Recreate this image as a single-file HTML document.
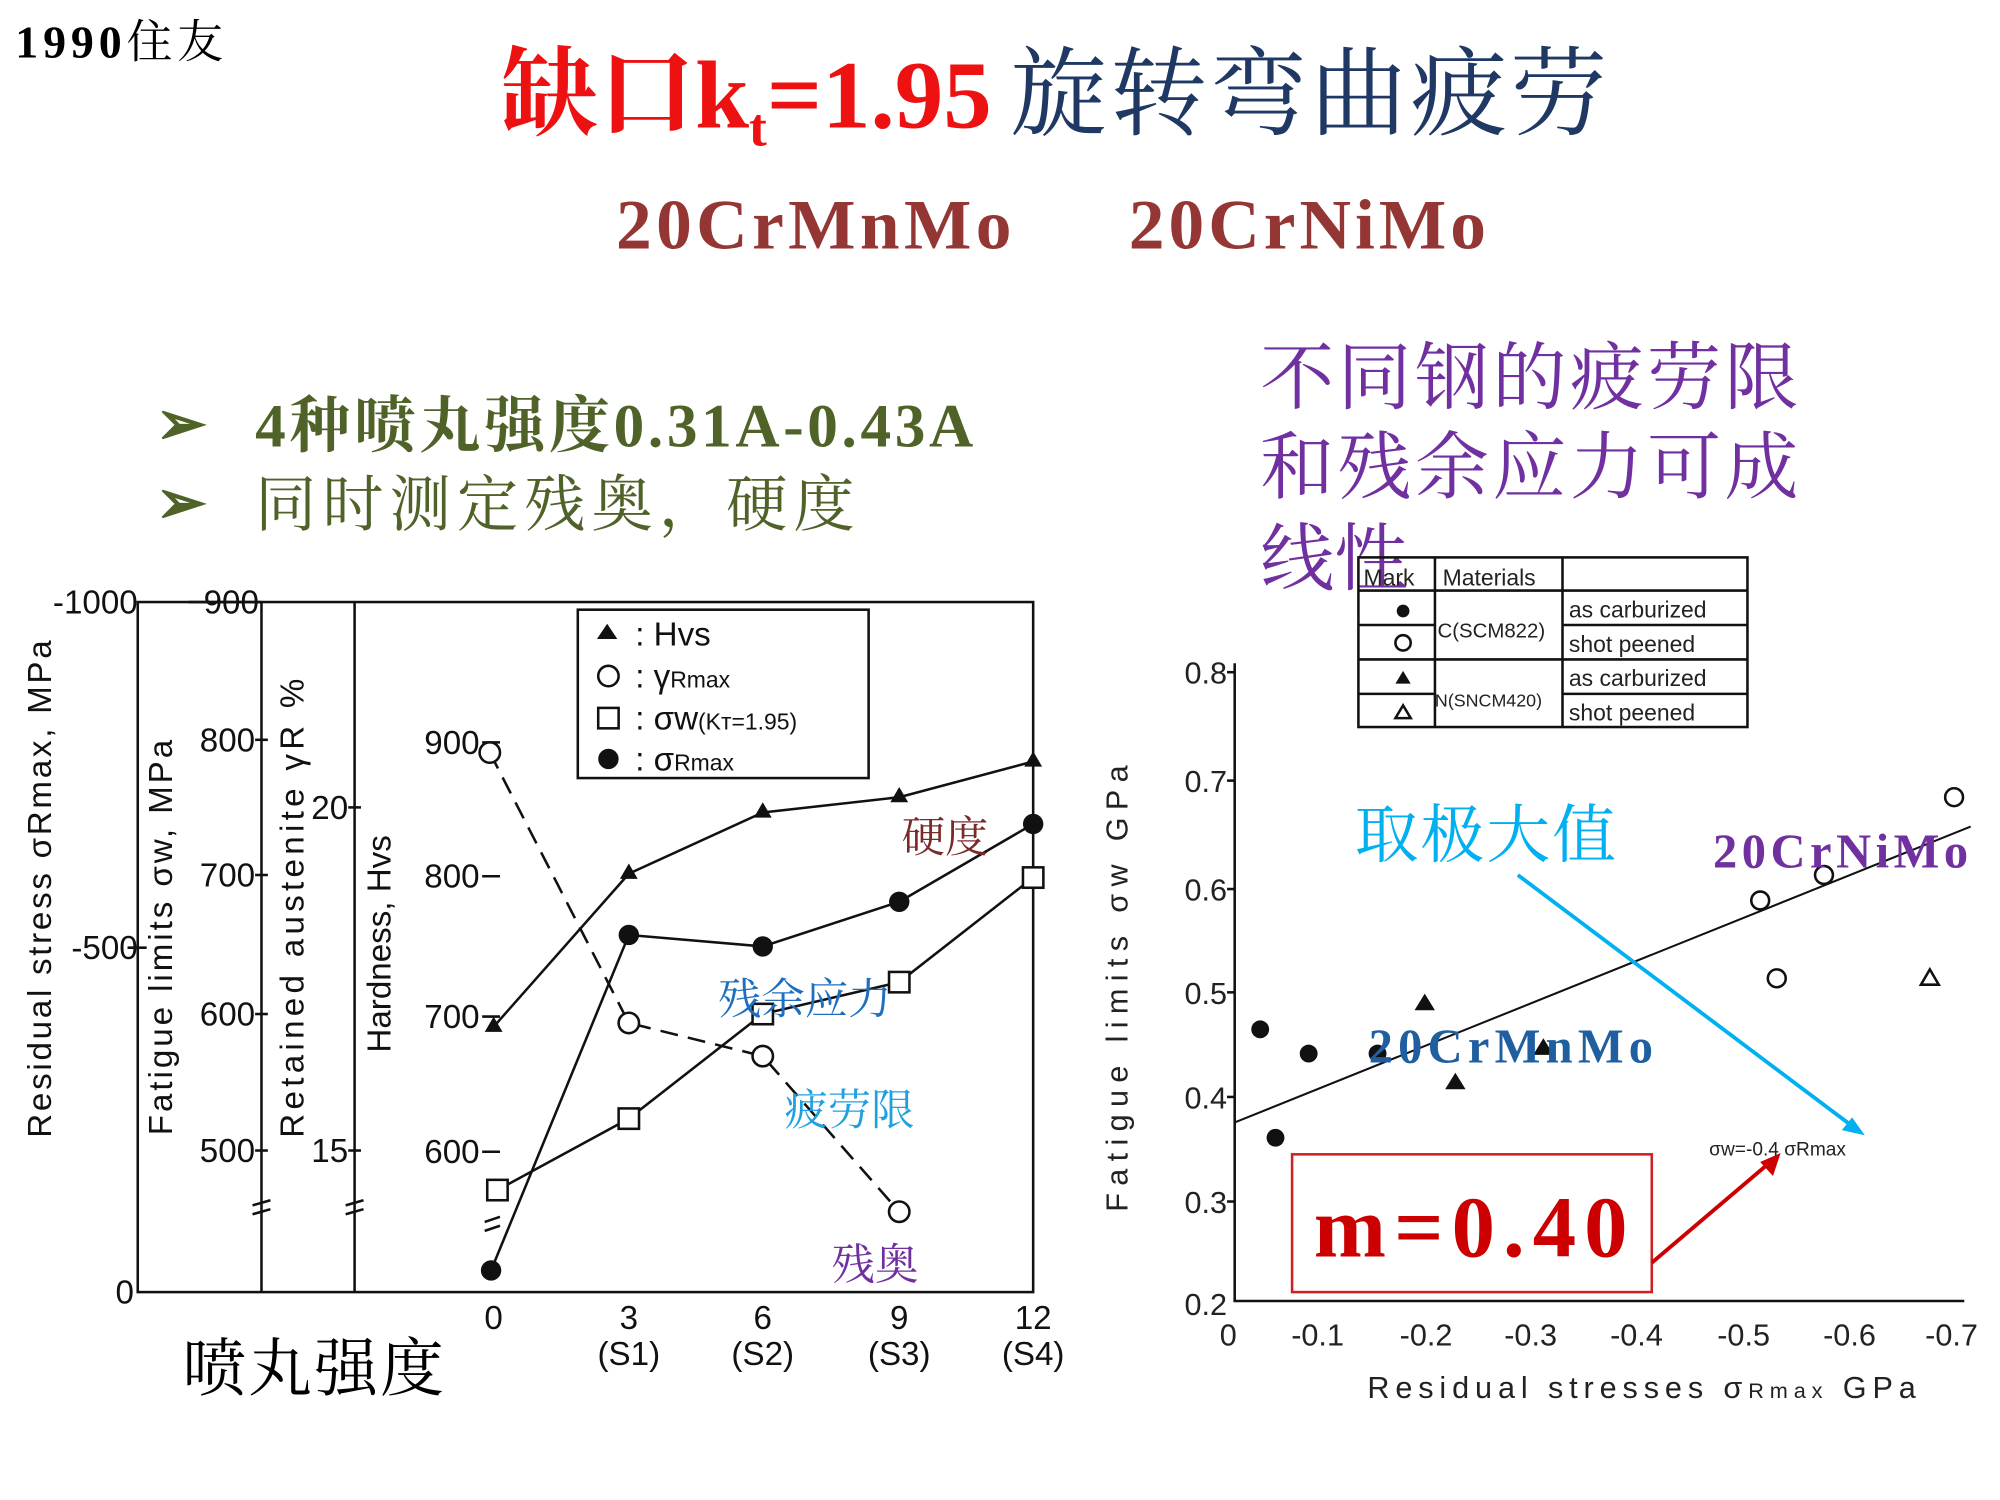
<!DOCTYPE html>
<html><head><meta charset="utf-8"><style>
html,body{margin:0;padding:0;background:#fff;}
svg{display:block;}
.s{font-family:"Liberation Serif","Noto Serif CJK SC",serif;}
.a{font-family:"Liberation Sans","Noto Sans CJK SC",sans-serif;}
.c{font-family:"Liberation Serif","Noto Serif CJK SC","Noto Sans CJK SC",serif;}
</style></head><body>
<svg width="2000" height="1500" viewBox="0 0 1568 1176" xmlns="http://www.w3.org/2000/svg">
<rect width="1568" height="1176" fill="#fff"/>
<text x="12" y="45" class="s" font-size="36" font-weight="bold" fill="#000" textLength="163">1990<tspan font-weight="normal">住友</tspan></text>
<text x="393" y="100" class="c" font-size="76" font-weight="bold" fill="#ee1111">缺口k<tspan font-size="42" dy="14">t</tspan><tspan dy="-14">=1.95</tspan></text>
<text x="792" y="100" class="c" font-size="76" fill="#1f3864" textLength="468">旋转弯曲疲劳</text>
<text x="483" y="195" class="s" font-size="56" font-weight="bold" fill="#943634" textLength="310">20CrMnMo</text>
<text x="885" y="195" class="s" font-size="56" font-weight="bold" fill="#943634" textLength="280">20CrNiMo</text>
<g class="c" font-size="48" font-weight="bold" fill="#4f6228">
<text x="122" y="348">➢</text><text x="200" y="350" textLength="563">4种喷丸强度0.31A-0.43A</text>
<text x="122" y="410">➢</text><text x="200" y="412" font-weight="normal" textLength="470">同时测定残奥，硬度</text>
</g>
<g class="c" font-size="58" fill="#7030a0">
<text x="988" y="316" textLength="422">不同钢的疲劳限</text>
<text x="988" y="386" textLength="422">和残余应力可成</text>
<text x="988" y="458">线性</text>
</g>
<!-- left chart -->
<g stroke="#111" stroke-width="2" fill="none">
<rect x="108" y="472" width="702" height="541"/>
<line x1="205" y1="472" x2="205" y2="1013"/>
<line x1="278" y1="472" x2="278" y2="1013"/>
<line x1="148" y1="472" x2="205" y2="472"/>
<line x1="200" y1="580" x2="210" y2="580"/><line x1="200" y1="686" x2="210" y2="686"/>
<line x1="200" y1="795" x2="210" y2="795"/><line x1="200" y1="902" x2="210" y2="902"/>
<line x1="273" y1="633" x2="283" y2="633"/><line x1="273" y1="902" x2="283" y2="902"/>
<line x1="100" y1="743" x2="115" y2="743"/>
<line x1="378" y1="582" x2="392" y2="582"/><line x1="378" y1="687" x2="392" y2="687"/>
<line x1="378" y1="797" x2="392" y2="797"/><line x1="378" y1="903" x2="392" y2="903"/>
<path d="M198 945 l14 -4 M198 952 l14 -4 M271 945 l14 -4 M271 952 l14 -4 M380 958 l12 -4 M380 965 l12 -4"/>
<rect x="453" y="478" width="228" height="132"/>
<polyline points="387,805 493,685 598,637 705,625 810,597"/>
<polyline points="384,590 493,802 598,828 705,950" stroke-dasharray="14,8"/>
<polyline points="390,933 493,877 598,795 705,770 810,688"/>
<polyline points="385,996 493,733 598,742 705,707 810,646"/>
</g>
<g fill="#111">
<path d="M387 797 l-7 12 h14z M493 677 l-7 12 h14z M598 629 l-7 12 h14z M705 617 l-7 12 h14z M810 589 l-7 12 h14z"/>
<circle cx="385" cy="996" r="8"/><circle cx="493" cy="733" r="8"/><circle cx="598" cy="742" r="8"/><circle cx="705" cy="707" r="8"/><circle cx="810" cy="646" r="8"/>
<path d="M476 489 l-8 12 h16z"/><circle cx="477" cy="595" r="8"/>
</g>
<g fill="#fff" stroke="#111" stroke-width="2">
<circle cx="384" cy="590" r="8"/><circle cx="493" cy="802" r="8"/><circle cx="598" cy="828" r="8"/><circle cx="705" cy="950" r="8"/>
<rect x="382" y="925" width="16" height="16"/><rect x="485" y="869" width="16" height="16"/><rect x="590" y="787" width="16" height="16"/><rect x="697" y="762" width="16" height="16"/><rect x="802" y="680" width="16" height="16"/>
<circle cx="477" cy="530" r="8"/><rect x="469" y="555" width="16" height="16"/>
</g>
<g class="a" font-size="26" fill="#111">
<text x="498" y="506">: Hvs</text><text x="498" y="539">: γ<tspan font-size="18">Rmax</tspan></text>
<text x="498" y="572">: σw<tspan font-size="18">(Kт=1.95)</tspan></text><text x="498" y="604">: σ<tspan font-size="18">Rmax</tspan></text>
<g text-anchor="end">
<text x="108" y="481">-1000</text><text x="108" y="752">-500</text><text x="105" y="1022">0</text>
<text x="203" y="481">900</text><text x="200" y="589">800</text><text x="200" y="695">700</text><text x="200" y="804">600</text><text x="200" y="911">500</text>
<text x="273" y="642">20</text><text x="273" y="911">15</text>
<text x="376" y="591">900</text><text x="376" y="696">800</text><text x="376" y="806">700</text><text x="376" y="912">600</text>
</g>
<g text-anchor="middle">
<text x="387" y="1042">0</text><text x="493" y="1042">3</text><text x="598" y="1042">6</text><text x="705" y="1042">9</text><text x="810" y="1042">12</text>
<text x="493" y="1070">(S1)</text><text x="598" y="1070">(S2)</text><text x="705" y="1070">(S3)</text><text x="810" y="1070">(S4)</text>
</g>
<text transform="translate(40,697) rotate(-90)" text-anchor="middle" textLength="390">Residual stress σRmax, MPa</text>
<text transform="translate(135,735) rotate(-90)" text-anchor="middle" textLength="310">Fatigue limits σw, MPa</text>
<text transform="translate(238,712) rotate(-90)" text-anchor="middle" textLength="360">Retained austenite γR %</text>
<text transform="translate(306,740) rotate(-90)" text-anchor="middle">Hardness, Hvs</text>
</g>
<g class="c" font-size="34">
<text x="707" y="668" fill="#7b2a2a">硬度</text>
<text x="563" y="795" fill="#1f6fc0">残余应力</text>
<text x="615" y="882" fill="#1fa0e0">疲劳限</text>
<text x="652" y="1003" fill="#7030a0">残奥</text>
</g>
<text x="143" y="1090" class="c" font-size="50" fill="#000" textLength="205">喷丸强度</text>
<!-- right chart -->
<g stroke="#111" stroke-width="2" fill="none">
<polyline points="968,520 968,1020 1540,1020"/>
<line x1="962" y1="527" x2="968" y2="527"/><line x1="962" y1="612" x2="968" y2="612"/><line x1="962" y1="697" x2="968" y2="697"/>
<line x1="962" y1="778" x2="968" y2="778"/><line x1="962" y1="860" x2="968" y2="860"/><line x1="962" y1="942" x2="968" y2="942"/>
<line x1="968" y1="880" x2="1545" y2="648" stroke-width="1.6"/>
<rect x="1065" y="437" width="305" height="133"/>
<line x1="1125" y1="437" x2="1125" y2="570"/><line x1="1225" y1="437" x2="1225" y2="570"/>
<line x1="1065" y1="463" x2="1370" y2="463"/><line x1="1065" y1="490" x2="1125" y2="490"/><line x1="1225" y1="490" x2="1370" y2="490"/>
<line x1="1065" y1="517" x2="1370" y2="517"/><line x1="1065" y1="544" x2="1125" y2="544"/><line x1="1225" y1="544" x2="1370" y2="544"/>
<circle cx="1380" cy="706" r="7"/><circle cx="1393" cy="767" r="7"/><circle cx="1430" cy="686" r="7"/><circle cx="1532" cy="625" r="7"/>
<path d="M1513 760 l-7 12 h14z"/>
<circle cx="1100" cy="504" r="6"/><path d="M1100 553 l-6 10 h12z"/>
</g>
<g fill="#111">
<circle cx="988" cy="807" r="7"/><circle cx="1026" cy="826" r="7"/><circle cx="1000" cy="892" r="7"/><circle cx="1080" cy="826" r="7"/>
<path d="M1117 779 l-8 13 h16z M1141 841 l-8 13 h16z M1210 814 l-8 13 h16z"/>
<circle cx="1100" cy="479" r="5"/><path d="M1100 526 l-6 10 h12z"/>
</g>
<g class="a" font-size="18" fill="#222">
<text x="1069" y="459">Mark</text><text x="1131" y="459">Materials</text>
<text x="1127" y="500" font-size="16">C(SCM822)</text><text x="1125" y="554" font-size="14">N(SNCM420)</text>
<text x="1230" y="484">as carburized</text><text x="1230" y="511">shot peened</text>
<text x="1230" y="538">as carburized</text><text x="1230" y="565">shot peened</text>
</g>
<g class="a" font-size="24" fill="#222">
<g text-anchor="end"><text x="962" y="536">0.8</text><text x="962" y="621">0.7</text><text x="962" y="706">0.6</text><text x="962" y="787">0.5</text><text x="962" y="869">0.4</text><text x="962" y="951">0.3</text><text x="962" y="1031">0.2</text></g>
<g text-anchor="middle"><text x="963" y="1055">0</text><text x="1033" y="1055">-0.1</text><text x="1118" y="1055">-0.2</text><text x="1200" y="1055">-0.3</text><text x="1283" y="1055">-0.4</text><text x="1367" y="1055">-0.5</text><text x="1450" y="1055">-0.6</text><text x="1530" y="1055">-0.7</text></g>
<text x="1072" y="1096" textLength="430">Residual  stresses σ<tspan font-size="17">Rmax</tspan>  GPa</text>
<text transform="translate(884,775) rotate(-90)" text-anchor="middle" textLength="350">Fatigue limits σw GPa</text>
<text x="1340" y="906" font-size="15">σw=-0.4 σRmax</text>
</g>
<text x="1062" y="672" class="c" font-size="50" fill="#00b0f0" textLength="205">取极大值</text>
<line x1="1190" y1="686" x2="1455" y2="885" stroke="#00b0f0" stroke-width="3"/>
<path d="M1462 890 l-18 -4 l8 -10z" fill="#00b0f0"/>
<text x="1343" y="680" class="s" font-size="38" font-weight="bold" fill="#7030a0" textLength="200">20CrNiMo</text>
<text x="1073" y="833" class="s" font-size="38" font-weight="bold" fill="#1f5fa0" textLength="223">20CrMnMo</text>
<rect x="1013" y="905" width="282" height="108" fill="none" stroke="#cc2222" stroke-width="2"/>
<text x="1030" y="985" class="s" font-size="68" font-weight="bold" fill="#cc0000" textLength="246">m=0.40</text>
<line x1="1295" y1="990" x2="1388" y2="911" stroke="#cc0000" stroke-width="3"/>
<path d="M1396 904 l-6 18 l-10 -11z" fill="#cc0000"/>
</svg>
</body></html>
